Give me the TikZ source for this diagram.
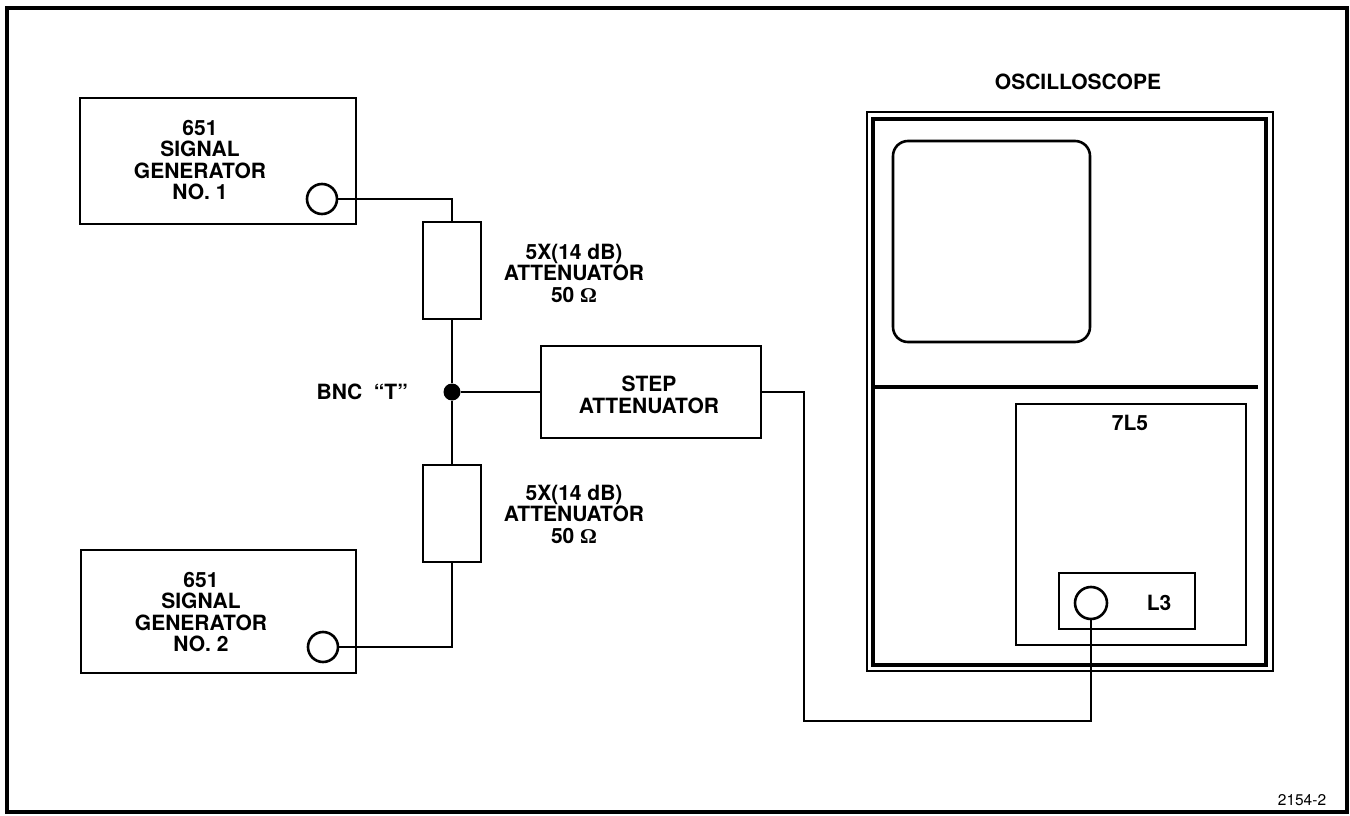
\documentclass[tikz,border=0pt]{standalone}
\usepackage{fontspec}
\setmainfont{TeX Gyre Heros}
\newfontfamily\omegafont{Liberation Serif}
\begin{document}
\begin{tikzpicture}[x=1pt,y=-1pt,
  box/.style={draw,line width=2.6pt,inner sep=0pt},
  port/.style={draw,circle,line width=2.6pt,minimum size=30pt,inner sep=0pt},
  lbl/.style={font=\bfseries\fontsize{21}{21.5}\selectfont,align=center,inner sep=0pt},
  wire/.style={line width=2.6pt}]
\useasboundingbox (0,0) rectangle (1350,816);
% outer frame
\draw[line width=3.2pt] (7,8) rectangle (1347,812);

% generator 1
\node[box,minimum width=276pt,minimum height=126pt] (g1) at (218,161) {};
\node[lbl] (g1t) at (200,160) {651\\SIGNAL\\GENERATOR\\NO. 1};
\node[port] (p1) at (322,199) {};

% generator 2
\node[box,minimum width=275pt,minimum height=123pt] (g2) at (218.5,611.5) {};
\node[lbl] (g2t) at (201,612) {651\\SIGNAL\\GENERATOR\\NO. 2};
\node[port] (p2) at (323,647) {};

% attenuators
\node[box,minimum width=58pt,minimum height=97pt] (a1) at (452,270.5) {};
\node[box,minimum width=58pt,minimum height=97pt] (a2) at (452,513.5) {};
\node[lbl] (a1t) at (574,273) {5X(14 dB)\\ATTENUATOR\\50 {\omegafont\bfseries Ω}};
\node[lbl] (a2t) at (574,514) {5X(14 dB)\\ATTENUATOR\\50 {\omegafont\bfseries Ω}};

% tee
\node[circle,fill,minimum size=17pt,inner sep=0pt] (tee) at (452,392) {};
\node[lbl,anchor=east] (bnc) at (408,392) {BNC\ \ ``T''};

% step attenuator
\node[box,minimum width=220pt,minimum height=92pt] (st) at (651,392) {};
\node[lbl] (stt) at (649,395) {STEP\\ATTENUATOR};

% oscilloscope
\node[lbl] (osc) at (1078,82) {OSCILLOSCOPE};
\draw[line width=2.2pt] (867,112) rectangle (1273,671);
\draw[line width=3.2pt] (873,119) rectangle (1266,665);
\draw[line width=2.6pt,rounded corners=15pt] (893,141) rectangle (1090,342);
\draw[line width=3.2pt] (873,387) -- (1258,387);
\node[box,minimum width=230pt,minimum height=241pt] (pl) at (1131,524.5) {};
\node[lbl] (plt) at (1130,423) {7L5};
\node[box,minimum width=136pt,minimum height=56pt] (l3) at (1127,601) {};
\node[lbl] (l3t) at (1159,603) {L3};
\node[port,minimum size=32pt] (p3) at (1091,603) {};

\node[font=\fontsize{15.5}{16}\selectfont,inner sep=0pt] (fig) at (1302,800) {2154-2};

% wires
\coordinate (c1) at (452,199);
\coordinate (c2) at (452,647);
\coordinate (w1) at (804,392);
\coordinate (w2) at (804,721);
\coordinate (w3) at (1091,721);
\draw[wire] (p1.east) -- (c1) -- (a1.north);
\draw[wire] (p2.east) -- (c2) -- (a2.south);
\draw[wire] (a1.south) -- (tee) -- (a2.north);
\draw[wire] (tee) -- (st.west);
\draw[wire] (st.east) -- (w1) -- (w2) -- (w3) -- (p3.south);
\end{tikzpicture}
\end{document}
